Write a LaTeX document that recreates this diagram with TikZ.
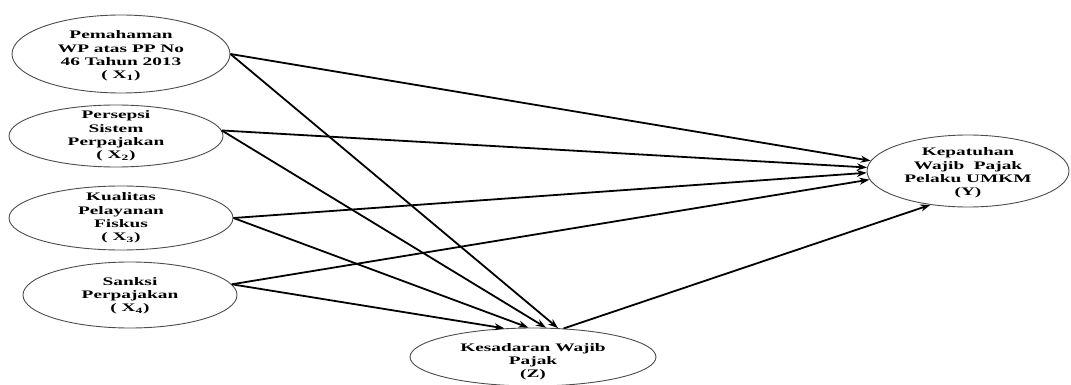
\documentclass[tikz,border=0pt]{standalone}
\usepackage{fontspec}
\setmainfont{Liberation Serif}
\usetikzlibrary{shapes.geometric,arrows.meta}
\newcommand\stretchlbl[1]{\scalebox{1.68}[1]{\begin{tabular}{@{}c@{}}#1\end{tabular}}}
\tikzset{
  ell/.style={ellipse, draw=black!70, line width=0.9pt, inner sep=0pt},
  lbl/.style={font=\bfseries\fontsize{11.5}{13.3}\selectfont, inner sep=0pt},
  arr/.style={line width=1.8pt, -{Stealth[length=10pt,width=7pt]}},
}
\begin{document}
\begin{tikzpicture}[x=1pt,y=-1pt]
\useasboundingbox (0,0) rectangle (1071,385);
\node[ell, minimum width=218pt, minimum height=78pt,
  label={[lbl,yshift=-2pt]center:{\stretchlbl{Pemahaman\\WP atas PP No\\46 Tahun 2013\\( X\textsubscript{1})}}}] (x1) at (121,54) {};
\node[ell, minimum width=214pt, minimum height=62pt,
  label={[lbl]center:{\stretchlbl{Persepsi\\Sistem\\Perpajakan\\( X\textsubscript{2})}}}] (x2) at (116,136) {};
\node[ell, minimum width=224pt, minimum height=64pt,
  label={[lbl]center:{\stretchlbl{Kualitas\\Pelayanan\\Fiskus\\( X\textsubscript{3})}}}] (x3) at (121,218) {};
\node[ell, minimum width=214pt, minimum height=66pt,
  label={[lbl,yshift=-1pt]center:{\stretchlbl{Sanksi\\Perpajakan\\( X\textsubscript{4})}}}] (x4) at (130,295) {};
\node[ell, minimum width=202pt, minimum height=72pt,
  label={[lbl,yshift=-2pt]center:{\stretchlbl{Kepatuhan\\Wajib\ \ Pajak\\Pelaku UMKM\\(Y)}}}] (y) at (968,171) {};
\node[ell, minimum width=246pt, minimum height=58pt,
  label={[lbl,yshift=-5pt]center:{\stretchlbl{Kesadaran Wajib\\Pajak\\(Z)}}}] (z) at (533,357) {};

\draw[arr] (x1.east) -- (y.174);
\draw[arr] (x1.east) -- (z.49);
\draw[arr] (x2.3) -- (y.178);
\draw[arr] (x2.3) -- (z.66);
\draw[arr] (x3.-0.5) -- (y.181);
\draw[arr] (x3.-0.5) -- (z.99);
\draw[arr] (x4.6) -- (y.185);
\draw[arr] (x4.6) -- (z.135);
\draw[arr] (z.43) -- (y.222);
\end{tikzpicture}
\end{document}
